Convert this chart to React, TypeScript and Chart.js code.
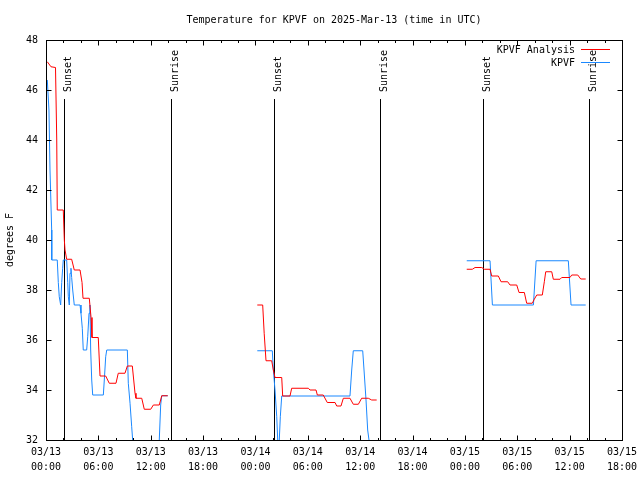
import React, { useEffect, useRef } from 'react';
import { Chart, registerables } from 'chart.js';
Chart.register(...registerables);

const TITLE = 'Temperature for KPVF on 2025-Mar-13 (time in UTC)';
const Y_TITLE = 'degrees F';
const X_MIN = 0;
const X_MAX = 66;
const Y_MIN = 32;
const Y_MAX = 48;
const DAY_LABELS = ['03/13', '03/14', '03/15'];
const HOUR_LABELS = ['00:00', '06:00', '12:00', '18:00'];
const FONT = '"DejaVu Sans Mono", "Liberation Mono", monospace';

const sunTimes = [2.07, 14.27, 26.07, 38.25, 50.08, 62.22];
const sunLabels = ['Sunset', 'Sunrise', 'Sunset', 'Sunrise', 'Sunset', 'Sunrise'];

const seriesNames = ['KPVF Analysis', 'KPVF'];
const seriesColors = ['#ff0000', '#1a88ff'];

// KPVF Analysis (hours since 03/13 00:00 UTC, deg F)
const anaTime1 = [0.15, 0.57, 1.09, 1.23, 1.29, 1.98, 2.1, 2.18, 2.37, 2.94, 3.24, 3.9, 4.13, 4.24, 4.96, 5.16, 5.27, 5.99, 6.19, 6.84, 7.25, 8.02, 8.28, 9.05, 9.32, 9.89, 10.2, 10.31, 10.97, 11.26, 12.0, 12.3, 12.98, 13.26, 13.95];
const anaTemp1 = [47.13, 46.93, 46.9, 44.0, 41.2, 41.2, 40.0, 39.6, 39.23, 39.23, 38.8, 38.8, 38.3, 37.67, 37.67, 36.9, 36.1, 36.1, 34.56, 34.56, 34.27, 34.27, 34.67, 34.67, 34.96, 34.96, 33.87, 33.67, 33.67, 33.23, 33.23, 33.4, 33.4, 33.77, 33.77];
const anaTime2 = [24.21, 24.83, 25.0, 25.21, 25.86, 26.05, 26.24, 27.01, 27.12, 27.96, 28.15, 30.06, 30.25, 30.94, 31.09, 31.77, 32.23, 33.12, 33.31, 33.8, 34.07, 34.83, 35.21, 35.79, 36.17, 36.93, 37.32, 37.89];
const anaTemp2 = [37.4, 37.4, 36.27, 35.17, 35.17, 34.8, 34.5, 34.5, 33.76, 33.76, 34.07, 34.07, 34.0, 34.0, 33.8, 33.8, 33.5, 33.5, 33.36, 33.36, 33.67, 33.67, 33.43, 33.43, 33.67, 33.67, 33.6, 33.6];
const anaTime3 = [48.21, 48.85, 49.16, 49.93, 50.22, 50.88, 51.07, 51.83, 52.14, 52.9, 53.17, 53.94, 54.2, 54.81, 55.08, 55.72, 55.95, 56.23, 56.87, 57.1, 57.26, 57.95, 58.13, 58.9, 59.09, 60.04, 60.24, 60.93, 61.27, 61.84];
const anaTemp3 = [38.83, 38.83, 38.9, 38.9, 38.83, 38.83, 38.56, 38.56, 38.33, 38.33, 38.2, 38.2, 37.9, 37.9, 37.47, 37.47, 37.63, 37.8, 37.8, 38.33, 38.73, 38.73, 38.43, 38.43, 38.5, 38.5, 38.6, 38.6, 38.44, 38.44];

// KPVF observations
const obsTime1 = [0.15, 0.34, 0.46, 0.65, 0.66, 1.29, 1.41, 1.52, 1.68, 1.8, 1.91, 1.98, 2.37, 2.49, 2.56, 2.67, 2.75, 2.86, 2.94, 3.06, 3.24, 3.9, 4.01, 4.16, 4.27, 4.66, 4.78, 4.93, 5.04, 5.12, 5.24, 5.35, 6.57, 6.68, 6.84, 6.96, 9.32, 9.43, 9.63, 9.82, 9.93, 10.03, 12.83, 12.98, 13.14, 13.26, 13.95];
const obsTemp1 = [46.4, 45.2, 42.8, 40.4, 39.2, 39.2, 38.3, 37.73, 37.4, 38.3, 38.87, 39.2, 39.2, 38.3, 37.73, 37.4, 38.67, 38.87, 38.5, 38.0, 37.4, 37.4, 37.07, 36.47, 35.6, 35.6, 36.13, 37.07, 37.4, 35.6, 34.4, 33.8, 33.8, 34.4, 35.33, 35.6, 35.6, 34.27, 33.47, 32.53, 32.0, 31.0, 31.0, 32.0, 33.4, 33.77, 33.77];
const obsTime2 = [24.21, 25.93, 26.05, 26.24, 26.44, 26.55, 26.64, 26.73, 26.85, 27.01, 34.83, 35.03, 35.21, 36.29, 36.44, 36.67, 36.86, 37.01, 37.07];
const obsTemp2 = [35.57, 35.57, 34.8, 34.0, 32.93, 32.0, 31.0, 32.0, 32.93, 33.76, 33.76, 34.8, 35.57, 35.57, 34.8, 33.6, 32.4, 32.0, 31.0];
const obsTime3 = [48.21, 50.88, 51.15, 55.85, 56.16, 59.85, 60.16, 61.84];
const obsTemp3 = [39.17, 39.17, 37.4, 37.4, 39.17, 39.17, 37.4, 37.4];

type Pt = { x: number; y: number | null };
function segments(parts: [number[], number[]][]): Pt[] {
  const out: Pt[] = [];
  parts.forEach(([t, v], k) => {
    if (k > 0) out.push({ x: (out[out.length - 1].x + t[0]) / 2, y: null });
    t.forEach((x, i) => out.push({ x, y: v[i] }));
  });
  return out;
}

const px = (v: number) => Math.round(v) + 0.5;

const gnuplotFrame = {
  id: 'gnuplotFrame',
  beforeDatasetsDraw(chart: any) {
    const { ctx, chartArea, scales } = chart;
    ctx.save();
    ctx.strokeStyle = '#000';
    ctx.fillStyle = '#000';
    ctx.lineWidth = 1;
    ctx.font = `10px ${FONT}`;
    sunTimes.forEach((t, i) => {
      const x = px(scales.x.getPixelForValue(t));
      ctx.beginPath();
      ctx.moveTo(x, chartArea.bottom);
      ctx.lineTo(x, chartArea.top + 59);
      ctx.stroke();
      ctx.save();
      ctx.translate(Math.round(x) + 6, chartArea.top + 52);
      ctx.rotate(-Math.PI / 2);
      ctx.textAlign = 'left';
      ctx.textBaseline = 'alphabetic';
      ctx.fillText(sunLabels[i], 0, 0);
      ctx.restore();
    });
    ctx.restore();
  },
  afterDatasetsDraw(chart: any) {
    const { ctx, chartArea, scales } = chart;
    const L = px(chartArea.left), R = px(chartArea.right), T = px(chartArea.top), B = px(chartArea.bottom);
    ctx.save();
    ctx.strokeStyle = '#000';
    ctx.fillStyle = '#000';
    ctx.lineWidth = 1;
    ctx.strokeRect(L, T, R - L, B - T);
    ctx.beginPath();
    scales.x.ticks.forEach((tk: any) => {
      const x = px(scales.x.getPixelForValue(tk.value));
      const len = tk.value % 6 === 0 ? 5 : 2.5;
      ctx.moveTo(x, B); ctx.lineTo(x, B - len);
      ctx.moveTo(x, T); ctx.lineTo(x, T + len);
    });
    scales.y.ticks.forEach((tk: any) => {
      const y = px(scales.y.getPixelForValue(tk.value));
      ctx.moveTo(L, y); ctx.lineTo(L + 5, y);
      ctx.moveTo(R, y); ctx.lineTo(R - 5, y);
    });
    ctx.stroke();

    ctx.font = `10px ${FONT}`;
    ctx.textAlign = 'center';
    ctx.textBaseline = 'middle';
    ctx.fillText(TITLE, (chartArea.left + chartArea.right) / 2, 20);
    ctx.save();
    ctx.translate(10.5, (chartArea.top + chartArea.bottom) / 2);
    ctx.rotate(-Math.PI / 2);
    ctx.fillText(Y_TITLE, 0, 0);
    ctx.restore();
    ctx.textAlign = 'right';
    seriesNames.forEach((name, i) => {
      const y = chartArea.top + 10 + i * 13;
      ctx.fillStyle = '#000';
      ctx.fillText(name, chartArea.right - 47, y);
      ctx.strokeStyle = seriesColors[i];
      ctx.beginPath();
      ctx.moveTo(chartArea.right - 41, px(y - 1));
      ctx.lineTo(chartArea.right - 12, px(y - 1));
      ctx.stroke();
    });
    ctx.restore();
  },
};

export default function App() {
  const ref = useRef<HTMLCanvasElement | null>(null);
  useEffect(() => {
    if (!ref.current) return;
    const analysis = segments([[anaTime1, anaTemp1], [anaTime2, anaTemp2], [anaTime3, anaTemp3]]);
    const obs = segments([[obsTime1, obsTemp1], [obsTime2, obsTemp2], [obsTime3, obsTemp3]]);
    const chart = new Chart(ref.current, {
      type: 'line',
      data: {
        datasets: [
          { label: seriesNames[0], data: analysis as any, borderColor: seriesColors[0], borderWidth: 1, pointRadius: 0, tension: 0, spanGaps: false },
          { label: seriesNames[1], data: obs as any, borderColor: seriesColors[1], borderWidth: 1, pointRadius: 0, tension: 0, spanGaps: false },
        ],
      },
      options: {
        responsive: false,
        animation: false,
        devicePixelRatio: 1,
        layout: { padding: { top: 40, right: 18, left: 0, bottom: 0 } },
        plugins: { legend: { display: false }, title: { display: false }, tooltip: { enabled: false } },
        scales: {
          x: {
            type: 'linear',
            min: X_MIN,
            max: X_MAX,
            afterFit: (s: any) => { s.height = 40; s.paddingLeft = 0; s.paddingRight = 0; },
            grid: { display: false, drawTicks: false },
            border: { display: false },
            ticks: {
              stepSize: 2,
              autoSkip: false,
              maxRotation: 0,
              minRotation: 0,
              padding: 5,
              color: '#000',
              font: { family: FONT, size: 10, lineHeight: 1.5 } as any,
              callback: (v: any) => {
                const n = Number(v);
                if (n % 6 !== 0) return '';
                return [DAY_LABELS[Math.floor(n / 24)] ?? '', HOUR_LABELS[(n % 24) / 6]];
              },
            },
          },
          y: {
            min: Y_MIN,
            max: Y_MAX,
            afterFit: (s: any) => { s.width = 46; s.paddingTop = 0; s.paddingBottom = 0; },
            grid: { display: false, drawTicks: false },
            border: { display: false },
            ticks: { stepSize: 2, padding: 8, color: '#000', font: { family: FONT, size: 10 } },
          },
        },
      },
      plugins: [gnuplotFrame],
    });
    return () => chart.destroy();
  }, []);
  return (
    <div style={{ position: 'absolute', left: 0, top: 0, width: 640, height: 480, background: '#fff' }}>
      <canvas ref={ref} width={640} height={480} />
    </div>
  );
}
